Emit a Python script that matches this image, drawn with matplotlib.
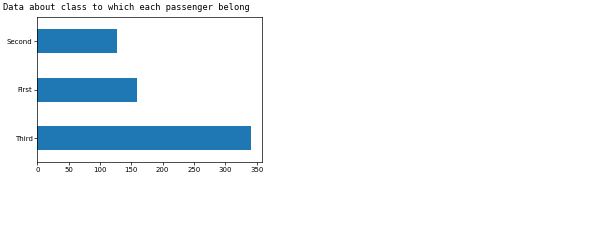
import matplotlib
matplotlib.use("Agg")
import matplotlib.pyplot as plt

# passenger count per class
classes = ["Third", "First", "Second"]
counts = [341, 159, 127]

fig = plt.figure(figsize=(6, 2.49), dpi=100)
ax = fig.add_axes([37.3 / 600, 1 - 162.3 / 249, (261.7 - 37.3) / 600, (162.3 - 17) / 249])

ax.barh(range(len(classes)), counts, height=0.5, color="#1f77b4")
ax.set_yticks(range(len(classes)))
ax.set_yticklabels(classes)
ax.set_ylim(-0.5, len(classes) - 0.5)
ax.set_xlim(0, max(counts) * 1.05)
ax.set_xticks(range(0, 351, 50))

ax.tick_params(labelsize=5, length=2, width=0.5, pad=1.5)
for s in ax.spines.values():
    s.set_linewidth(0.5)

fig.text(3 / 600, 1 - 7 / 249, "Data about class to which each passenger belong",
         family="DejaVu Sans Mono", fontsize=6.2, va="center", ha="left")

fig.savefig("out.png", dpi=100)
